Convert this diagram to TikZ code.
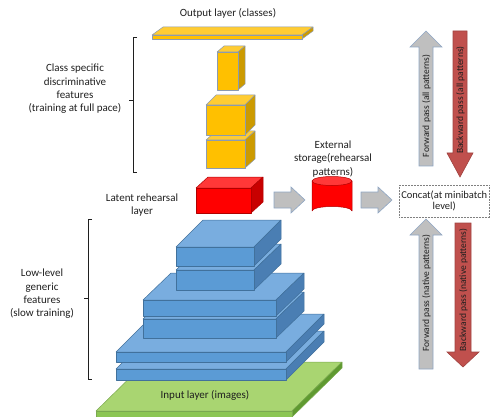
\documentclass[tikz,border=0pt]{standalone}
\usepackage{fontspec}
\setmainfont{Carlito}
\definecolor{txt}{HTML}{1F1F1F}
% yellow stack
\definecolor{yelF}{HTML}{FFC000}
\definecolor{yelT}{HTML}{FFCC33}
\definecolor{yelS}{HTML}{CC9A00}
\definecolor{yelE}{HTML}{8C9BB0}
% red latent block
\definecolor{redF}{HTML}{FF0000}
\definecolor{redT}{HTML}{FF3838}
\definecolor{redS}{HTML}{C80000}
\definecolor{redE}{HTML}{B00000}
% blue stack
\definecolor{bluF}{HTML}{5B9BD5}
\definecolor{bluT}{HTML}{79ADDF}
\definecolor{bluS}{HTML}{4A7EB3}
\definecolor{bluE}{HTML}{41719C}
% green input slab
\definecolor{grnF}{HTML}{8CC653}
\definecolor{grnT}{HTML}{A9D571}
\definecolor{grnS}{HTML}{5F9A30}
\definecolor{grnE}{HTML}{7AA850}
% block arrows
\definecolor{arrG}{HTML}{BFBFBF}
\definecolor{arrGE}{HTML}{8FA6C4}
\definecolor{arrR}{HTML}{C0504D}
\definecolor{arrRE}{HTML}{A04340}

% cuboid: left, right, top, bottom of the front face, depth dx, depth dy, colour family
\newcommand{\cuboid}[7]{%
  \filldraw[#7 top]  (#1,#3) -- (#1+#5,#3-#6) -- (#2+#5,#3-#6) -- (#2,#3) -- cycle;
  \filldraw[#7 side] (#2,#3) -- (#2+#5,#3-#6) -- (#2+#5,#4-#6) -- (#2,#4) -- cycle;
  \filldraw[#7 front] (#1,#3) rectangle (#2,#4);
}
% horizontal block arrow: tail x, tip x, centre y, half shaft, half head, head length, style
\newcommand{\harrow}[7]{%
  \filldraw[#7] (#1,#3-#4) -- (#2-#6,#3-#4) -- (#2-#6,#3-#5) -- (#2,#3)
    -- (#2-#6,#3+#5) -- (#2-#6,#3+#4) -- (#1,#3+#4) -- cycle;
}
% vertical block arrow: centre x, tail y, tip y, half shaft, half head, head base y, style
\newcommand{\varrow}[7]{%
  \filldraw[#7] (#1-#4,#2) -- (#1-#4,#6) -- (#1-#5,#6) -- (#1,#3)
    -- (#1+#5,#6) -- (#1+#4,#6) -- (#1+#4,#2) -- cycle;
}

\tikzset{
  face/.style={line width=0.5pt, line join=round},
  yel top/.style={face, fill=yelT, draw=yelE},
  yel side/.style={face, fill=yelS, draw=yelE},
  yel front/.style={face, fill=yelF, draw=yelE},
  red top/.style={face, fill=redT, draw=redE},
  red side/.style={face, fill=redS, draw=redE},
  red front/.style={face, fill=redF, draw=redE},
  blu top/.style={face, fill=bluT, draw=bluE},
  blu side/.style={face, fill=bluS, draw=bluE},
  blu front/.style={face, fill=bluF, draw=bluE},
  grn top/.style={face, fill=grnT, draw=grnE},
  grn side/.style={face, fill=grnS, draw=grnE},
  grn front/.style={face, fill=grnF, draw=grnE},
  grayarrow/.style={fill=arrG, draw=arrGE, line width=0.6pt, line join=miter},
  redarrow/.style={fill=arrR, draw=arrRE, line width=0.6pt, line join=miter},
  label/.style={text=txt, align=center, font=\fontsize{11}{13.4}\selectfont, inner sep=0pt},
  arrowtext/.style={text=txt, rotate=90, font=\fontsize{9.5}{11}\selectfont, inner sep=0pt},
  bracket/.style={draw=txt, line width=0.6pt},
}

\begin{document}
\begin{tikzpicture}[x=1pt, y=-1pt]
\useasboundingbox (0,0) rectangle (490,417);

% ---- input slab and blue low-level stack (bottom to top) ----
\cuboid{96}{292}{411}{417}{50}{49}{grn}
\cuboid{116}{286}{369}{380}{38}{38}{blu}
\cuboid{116}{286}{352}{362}{38}{38}{blu}
\cuboid{143}{276}{319}{338}{28}{27}{blu}
\cuboid{143}{276}{300}{316}{28}{27}{blu}
\cuboid{176}{254}{270}{290}{27}{26}{blu}
\cuboid{176}{254}{247}{266}{27}{27}{blu}

% ---- latent rehearsal block and yellow class stack ----
\cuboid{196}{251}{188}{213}{12}{11}{red}
\cuboid{206}{245}{140}{168}{10}{9}{yel}
\cuboid{206}{245}{105}{135}{10}{10}{yel}
\cuboid{217}{238}{52}{90}{7}{6}{yel}
\cuboid{152}{302}{35}{39}{11}{8}{yel}
\coordinate (latent) at (223.5,200.5);

% ---- external storage cylinder ----
\filldraw[red front] (312,181) -- (312,211) arc[start angle=180, end angle=360, x radius=20, y radius=4.5]
  -- (352,181) -- cycle;
\filldraw[red top] (332,181) ellipse[x radius=20, y radius=4.5];
\coordinate (store) at (332,198);

% ---- concat box ----
\node[draw=gray, densely dotted, line width=0.5pt, minimum width=90.5pt, minimum height=32pt,
      inner sep=0pt] (concat) at (444.25,201) {};
\node[text=txt, align=center, font=\fontsize{10.5}{11.5}\selectfont, inner sep=0pt]
  (concattext) at (concat.center) {Concat(at minibatch\\level)};

% ---- horizontal flow arrows ----
\harrow{274}{305}{200}{8}{13}{14}{grayarrow}
\harrow{361}{392}{200}{8}{13}{14}{grayarrow}

% ---- vertical pass arrows ----
\varrow{426}{166}{31}{7}{16}{47}{grayarrow}
\varrow{460}{31}{177}{7}{13}{153}{redarrow}
\varrow{426}{369}{219}{7}{16}{235}{grayarrow}
\varrow{463}{223}{367}{8}{16}{352}{redarrow}
\node[arrowtext] (fwdall) at (426.5,106) {Forward pass (all patterns)};
\node[arrowtext] (bwdall) at (460.5,100) {Backward pass (all patterns)};
\node[arrowtext] (fwdnat) at (426.5,293) {Forward pass (native patterns)};
\node[arrowtext] (bwdnat) at (463.5,290) {Backward pass (native patterns)};

% ---- brackets ----
\draw[bracket] (137,37) -- (133,37) -- (133,172) -- (137,172);
\draw[bracket] (133,100) -- (129,100);
\draw[bracket] (92,219) -- (88,219) -- (88,379) -- (92,379);
\draw[bracket] (88,298) -- (84,298);

% ---- labels ----
\node[label] (outlbl) at (228,13) {Output layer (classes)};
\node[label] (classlbl) at (75,89) {Class specific\\discriminative\\features\\(training at full pace)};
\node[label] (latentlbl) at (142,205) {Latent rehearsal\\layer};
\node[label] (lowlbl) at (42,294) {Low-level\\generic\\features\\(slow training)};
\node[label] (storelbl) at (333,159) {External\\storage(rehearsal\\patterns)};
\node[label] (inlbl) at (205,395) {Input layer (images)};
\end{tikzpicture}
\end{document}
